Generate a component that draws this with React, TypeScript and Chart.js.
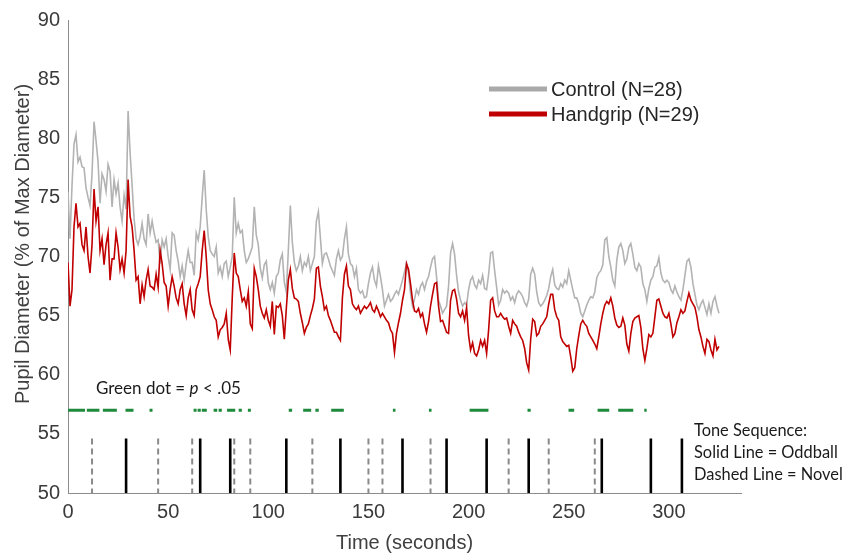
import React, { useEffect, useRef } from 'react';
import { Chart, registerables } from 'chart.js';

Chart.register(...registerables);

// Sampling of the traces (seconds between samples)
const SAMPLE_STEP_S = 1;

// Control (N=28) pupil diameter, % of max, one value per second from t=0
const controlValues = [
  75.5, 71.5, 76, 79.5, 80.3, 78, 78.4, 77.6, 77.5, 75.8,
  75, 74.3, 77, 81.4, 79.8, 78, 74.5, 77, 76.5, 75.5,
  77.8, 77.2, 74.2, 76.5, 75.3, 76.2, 74.2, 73, 75.2, 74,
  82.3, 78.8, 76, 73.2, 71.5, 71, 71.7, 72.8, 71.5, 71,
  73.6, 72, 73, 72, 71.2, 71.4, 69.4, 71.4, 70.8, 71.5,
  70, 68.9, 72, 71.8, 70.5, 69.6, 68.3, 69.2, 68, 69.4,
  70.5, 69.5, 69.5, 68.4, 72, 71.4, 72.5, 75, 77.3, 74,
  71.7, 70.5, 70.2, 70, 70.8, 68.6, 69.1, 68.3, 69.4, 69.6,
  68.3, 69.1, 70, 75, 72, 72.8, 72, 72.2, 70.5, 69.5,
  69.8, 70.3, 70.8, 74.2, 71.8, 71, 69, 68.2, 69.3, 69.6,
  67.8, 67.2, 67.8, 66.9, 68.3, 68.6, 69.7, 70.2, 67.8, 67,
  70.5, 74.3, 71.2, 69.5, 68.8, 69.2, 70, 68.8, 69.5, 69.2,
  70, 68.8, 69.4, 70, 73, 73.8, 71.6, 69.4, 70.2, 70.3,
  69.8, 69.2, 68.8, 68.4, 69.8, 70.5, 69.7, 70, 71.5, 72.5,
  70.2, 69.4, 69.2, 68.3, 69, 67.2, 66.9, 67.1, 66.5, 66.6,
  67.7, 68.6, 69.1, 68, 67.5, 69.2, 68.3, 67.2, 65.8, 66.3,
  66.8, 66.2, 66.4, 66.8, 67.1, 66.8, 67.4, 68, 68.7, 69.4,
  68.6, 66.9, 65.8, 66.4, 67.2, 66.8, 67.5, 67.8, 67.2, 67.9,
  68.3, 69.1, 69.8, 70, 68.3, 66.3, 65.8, 65.2, 65.5, 65.8,
  67.5, 70.3, 71.1, 70.2, 68.4, 67, 66.3, 65.8, 66.1, 65.9,
  67.2, 68, 68.3, 67.6, 67.3, 68, 67.7, 68.4, 67.3, 67.2,
  68.5, 70.3, 70.4, 68.8, 67.4, 65.9, 66.3, 67.2, 66.9, 67.1,
  66.9, 66.3, 66.6, 66.1, 66.8, 67.1, 66.9, 66.6, 66.1, 65.8,
  66.4, 68.5, 69, 68.5, 67, 66.1, 65.8, 66, 66.3, 66.7,
  67.3, 68.3, 68.9, 67.6, 67.3, 67.2, 67.7, 67.4, 68, 67.7,
  68.8, 68, 67.2, 66.5, 66.5, 66, 65.2, 64.9, 65.4, 65.9,
  66.3, 66.6, 66.5, 67, 68.2, 68.6, 68.8, 69.3, 71.4, 71.6,
  70, 69.1, 68, 67.5, 69.7, 70.8, 71.1, 70.5, 69.4, 69.8,
  70.8, 71.1, 70.2, 69.1, 68.8, 69.4, 69.1, 67.7, 67.2, 66.2,
  67.3, 68, 68.3, 69.1, 69.2, 69.9, 68.6, 68, 67.8, 68,
  67.8, 67.2, 66.9, 67.5, 67, 66.6, 66.3, 67.2, 68.4, 69.6,
  69.8, 69.1, 67.7, 66.8, 65.9, 65.5, 66, 66.3, 65.7, 65.1,
  66, 65.2, 66.2, 66.6, 65.8, 65.2,
];

// Handgrip (N=29) pupil diameter, % of max, one value per second from t=0
const handgripValues = [
  69.5, 65.8, 67.2, 72.5, 74.5, 72.5, 72.8, 71, 70.5, 72.5,
  70, 68.6, 71, 75.7, 73, 74.2, 70.5, 71.5, 69.3, 71,
  72, 68, 69.8, 69.8, 72, 70.8, 68.9, 69.8, 68.6, 70.5,
  76.5, 73.4, 72.5, 70.5, 68, 68.3, 66, 67.6, 66.6, 68,
  68.9, 67.5, 67.4, 67.2, 68.5, 67.4, 70.5, 69.4, 67.8, 67.5,
  65.8, 67.2, 68.3, 67.5, 66.5, 66, 67.2, 67.7, 66, 65,
  66.5, 67.2, 65.5, 65, 67.2, 67.7, 68.3, 70.5, 72.2, 70,
  67.2, 66, 65.5, 64.9, 64.6, 63.2, 63.8, 64, 64.3, 65.2,
  63, 62.1, 66.5, 70.3, 68.6, 68.3, 67.2, 66.2, 66.5, 65.8,
  67, 64.3, 63.9, 69, 68.3, 67.2, 65.8, 65.2, 64.8, 65.5,
  64.6, 64.1, 66.2, 63.4, 65.8, 65.7, 66, 65, 63, 65.6,
  68, 68.9, 67.3, 66.5, 66.4, 66.2, 65.2, 64.4, 63.5, 64,
  64.3, 65, 65.6, 66.4, 69, 69.1, 67.5, 66.6, 65.5, 65.8,
  65, 64.6, 64.1, 63.6, 63.6, 63.2, 62.9, 66.5, 68.5, 69.2,
  67.5, 67.2, 66, 65.7, 65.5, 65.8, 65.2, 65.5, 65.8, 65.6,
  65.8, 66.1, 65.5, 65.3, 65.8, 65.4, 64.9, 65.2, 64.9, 64.6,
  64.4, 63.8, 63.5, 61.9, 63.5, 64.4, 65.2, 66.3, 67.2, 69.4,
  68.9, 67.7, 66.3, 65.4, 65.3, 65.6, 64.9, 65.2, 64.3, 63.6,
  64.5, 65.8, 66.8, 67.7, 67.8, 65.8, 64.5, 64.6, 64.1, 63.6,
  63.5, 66.3, 67.1, 67.2, 66.4, 65.2, 64.9, 65.4, 64.6, 65.7,
  63.3, 62.1, 62.7, 61.8, 61.6, 62.1, 62.9, 62.4, 62.9, 61.8,
  63.8, 66.3, 66.5, 65.4, 64.9, 64.9, 65.2, 64.9, 64.7, 64.8,
  64.1, 63.5, 64.6, 64.3, 64.1, 63.6, 63.2, 62.9, 62.2, 61,
  60.4, 63, 64.7, 64.5, 63.3, 63.5, 64.1, 64.3, 64.6, 64.9,
  66, 66.8, 66.8, 65.5, 64.9, 64.6, 63.2, 62.8, 62.6, 62.4,
  62.5, 61.5, 60.3, 60.6, 62.2, 63.3, 64.3, 64.6, 64.3, 64.1,
  63.5, 63.2, 62.9, 62.6, 62.2, 63.2, 64.3, 65.2, 65.9, 66.2,
  66, 66.5, 65.8, 64.8, 64.2, 64, 64.1, 64.8, 64.2, 62.6,
  62, 63.5, 64.5, 64.8, 64.9, 65, 64, 62.2, 61.2, 62.2,
  63.4, 63.2, 63.5, 64.9, 66.3, 66.4, 65.8, 65.2, 64.9, 64.8,
  65.2, 64.3, 63.2, 63.5, 64.4, 64.9, 65.5, 65.2, 65.4, 66.2,
  66.9, 66.3, 66, 65.7, 64.9, 63.8, 63.2, 62.4, 61.8, 63,
  62.8, 62.1, 61.6, 63, 62.1, 62.4,
];

// Tone onsets (seconds)
const oddballTimes = [29, 66, 81, 109, 136, 167, 189, 209, 230, 266.5, 291, 306.5];
const novelTimes = [12, 45, 62, 83, 91, 122, 150, 157, 181, 220, 240, 263];

// Time spans (seconds) where the groups differ, p < .05
const significantSpans = [
  [0, 8.5], [9.4, 15.7], [17.4, 24.4], [28.7, 32.7], [40.7, 42.2],
  [62.7, 64.2], [64.7, 66.3], [66.8, 69.3], [72.7, 74.5], [75.2, 76.8],
  [79.4, 83.5], [85.2, 86.8], [89.8, 91.3], [110.2, 111.9], [117.4, 121.4],
  [123.5, 125.2], [131.4, 137.7], [162.2, 163.5], [180.2, 181.5], [200.5, 209.9],
  [229.4, 231], [249.9, 252.7], [264.4, 270.2], [274.7, 282.2], [287.7, 288.9],
];

// Chart values for the marker rows
const SIG_ROW_VALUE = 57;
const TONE_BASE_VALUE = 50;
const TONE_TOP_VALUE = 54.6;

const X_MIN = 0;
const X_MAX = 336;
const X_STEP = 50;
const Y_MIN = 50;
const Y_MAX = 90;
const Y_STEP = 5;

const seriesLabels = ['Control (N=28)', 'Handgrip (N=29)'];

function toPoints(values: number[]) {
  return values.map((v, i) => ({ x: i * SAMPLE_STEP_S, y: v }));
}

function spanPoints(spans: number[][], yv: number) {
  const out: any[] = [];
  spans.forEach(([a, b]) => {
    out.push({ x: a, y: yv }, { x: b, y: yv }, { x: b, y: null });
  });
  return out;
}

function tonePoints(times: number[]) {
  const out: any[] = [];
  times.forEach((t) => {
    out.push({ x: t, y: TONE_TOP_VALUE }, { x: t, y: TONE_BASE_VALUE }, { x: t, y: null });
  });
  return out;
}

const ARIAL = '"Liberation Sans", Arial, sans-serif';
const CALIBRI = 'Lato, "Open Sans", sans-serif';

const overlayPlugin = {
  id: 'overlayText',
  afterDraw(chart: any) {
    const ctx = chart.ctx as CanvasRenderingContext2D;
    ctx.save();

    // Y axis title
    ctx.save();
    ctx.translate(23, 244);
    ctx.rotate(-Math.PI / 2);
    ctx.font = `20px ${ARIAL}`;
    ctx.fillStyle = '#404040';
    ctx.textAlign = 'center';
    ctx.textBaseline = 'middle';
    ctx.fillText('Pupil Diameter (% of Max Diameter)', 0, 0);
    ctx.restore();

    // Legend
    const legendColors = ['#a9a9a9', '#c00000'];
    const legendY = [89, 114];
    for (let i = 0; i < 2; i++) {
      ctx.strokeStyle = legendColors[i];
      ctx.lineWidth = 5;
      ctx.lineCap = 'butt';
      ctx.beginPath();
      ctx.moveTo(489, legendY[i]);
      ctx.lineTo(547, legendY[i]);
      ctx.stroke();
      ctx.font = `20px ${ARIAL}`;
      ctx.fillStyle = '#262626';
      ctx.textAlign = 'left';
      ctx.textBaseline = 'middle';
      ctx.fillText(seriesLabels[i], 551, legendY[i] + 1);
    }

    // Significance note
    ctx.font = `17px ${CALIBRI}`;
    ctx.fillStyle = '#1a1a1a';
    ctx.textBaseline = 'middle';
    ctx.textAlign = 'left';
    let x = 96;
    const ny = 389;
    const a = 'Green dot = ';
    ctx.fillText(a, x, ny);
    x += ctx.measureText(a).width;
    ctx.font = `italic 17px ${CALIBRI}`;
    ctx.fillText('p', x, ny);
    x += ctx.measureText('p').width;
    ctx.font = `17px ${CALIBRI}`;
    ctx.fillText(' < .05', x, ny);

    // Tone sequence key
    ctx.font = `16.4px ${CALIBRI}`;
    ctx.fillText('Tone Sequence:', 694, 431);
    ctx.fillText('Solid Line = Oddball', 694, 453);
    ctx.fillText('Dashed Line = Novel', 694, 475);

    ctx.restore();
  },
};

export default function App() {
  const canvasRef = useRef<HTMLCanvasElement | null>(null);

  useEffect(() => {
    document.body.style.margin = '0';
    const canvas = canvasRef.current;
    if (!canvas) return;

    const axisColor = '#8c8c8c';
    const chart = new Chart(canvas, {
      type: 'line',
      data: {
        datasets: [
          {
            label: seriesLabels[0],
            data: toPoints(controlValues),
            borderColor: '#b3b3b3',
            borderWidth: 1.6,
            pointRadius: 0,
            tension: 0,
            order: 2,
          },
          {
            label: seriesLabels[1],
            data: toPoints(handgripValues),
            borderColor: '#c00000',
            borderWidth: 1.6,
            pointRadius: 0,
            tension: 0,
            order: 1,
          },
          {
            label: 'p < .05',
            data: spanPoints(significantSpans, SIG_ROW_VALUE),
            borderColor: '#1f8a3c',
            borderWidth: 3,
            borderCapStyle: 'butt',
            pointRadius: 0,
            spanGaps: false,
            order: 3,
          },
          {
            label: 'Oddball',
            data: tonePoints(oddballTimes),
            borderColor: '#000000',
            borderWidth: 2.6,
            borderCapStyle: 'butt',
            pointRadius: 0,
            spanGaps: false,
            order: 4,
          },
          {
            label: 'Novel',
            data: tonePoints(novelTimes),
            borderColor: '#8a8a8a',
            borderWidth: 2,
            borderDash: [6, 4],
            borderCapStyle: 'butt',
            pointRadius: 0,
            spanGaps: false,
            order: 5,
          },
        ] as any,
      },
      options: {
        responsive: false,
        animation: false,
        devicePixelRatio: 1,
        parsing: true,
        layout: { padding: { left: 0, right: 106, top: 20, bottom: 0 } },
        plugins: {
          legend: { display: false },
          tooltip: { enabled: false },
        },
        scales: {
          x: {
            type: 'linear',
            min: X_MIN,
            max: X_MAX,
            afterFit: (s: any) => {
              s.height = 62;
            },
            ticks: {
              stepSize: X_STEP,
              includeBounds: false,
              padding: 7,
              maxRotation: 0,
              autoSkip: false,
              color: '#3a3a3a',
              font: { family: ARIAL, size: 20 },
            },
            grid: { display: true, drawOnChartArea: false, drawTicks: false, color: axisColor },
            border: { display: true, color: axisColor, width: 1 },
            title: {
              display: true,
              text: 'Time (seconds)',
              color: '#404040',
              font: { family: ARIAL, size: 20 },
              padding: { top: 0, bottom: 0 },
            },
          },
          y: {
            type: 'linear',
            min: Y_MIN,
            max: Y_MAX,
            afterFit: (s: any) => {
              s.width = 68;
            },
            ticks: {
              stepSize: Y_STEP,
              padding: 8,
              color: '#3a3a3a',
              font: { family: ARIAL, size: 20 },
            },
            grid: { display: true, drawOnChartArea: false, drawTicks: false, color: axisColor },
            border: { display: true, color: axisColor, width: 1 },
          },
        },
      } as any,
      plugins: [overlayPlugin],
    });

    return () => {
      chart.destroy();
    };
  }, []);

  return (
    <div style={{ width: 847, height: 555, position: 'relative' }}>
      <canvas ref={canvasRef} width={847} height={555} style={{ display: 'block' }} />
    </div>
  );
}
